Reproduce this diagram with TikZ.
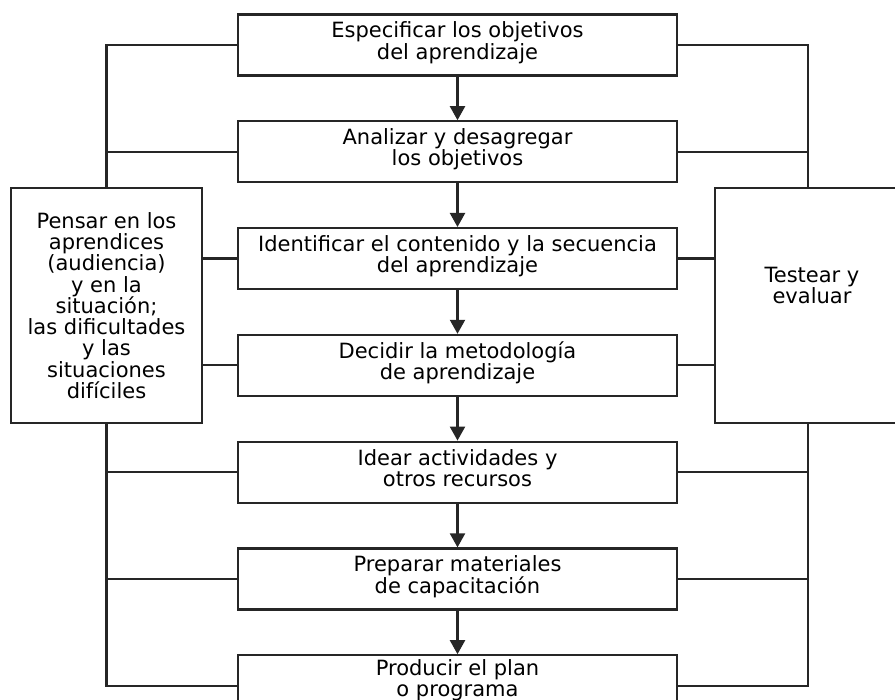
\documentclass[tikz,border=0pt]{standalone}
\usepackage{fontspec}
\setmainfont{DejaVu Sans}
\usetikzlibrary{positioning,arrows.meta}
\newcommand{\boxfont}{\fontsize{21pt}{21.3pt}\selectfont}
\tikzset{
  >={Triangle[length=14pt,width=15pt]},
  node distance=43.6pt,
  stepbox/.style={draw=black!85,line width=2.2pt,minimum height=61pt,
    minimum width=439pt,inner sep=0pt,align=center,font=\boxfont,
    text depth=9pt},
  sidebox/.style={draw=black!85,line width=2.2pt,minimum height=235pt,
    inner sep=0pt,align=center,font=\boxfont},
  sidetxt/.style={align=center,inner sep=0pt,font=\boxfont},
  flow/.style={->,line width=2.2pt,black!85},
  link/.style={line width=2.2pt,black!85},
}

\begin{document}
\begin{tikzpicture}[x=1pt,y=-1pt]
  \useasboundingbox (0,0) rectangle (895,700);
  \node[stepbox] (b1) at (457.5,45) {Especificar los objetivos\\del aprendizaje};
  \node[stepbox,below=of b1] (b2) {Analizar y desagregar\\los objetivos};
  \node[stepbox,below=of b2] (b3) {Identificar el contenido y la secuencia\\del aprendizaje};
  \node[stepbox,below=of b3] (b4) {Decidir la metodología\\de aprendizaje};
  \node[stepbox,below=of b4] (b5) {Idear actividades y\\otros recursos};
  \node[stepbox,below=of b5] (b6) {Preparar materiales\\de capacitación};
  \node[stepbox,below=of b6,text depth=15pt] (b7) {Producir el plan\\o programa};
  \node[sidebox,minimum width=191pt] (pens) at (106.5,305.5)
    {Pensar en los\\aprendices\\(audiencia)\\y en la\\situación;\\las dificultades\\y las\\situaciones\\difíciles};
  \node[sidebox,minimum width=186pt] (test) at (808,305.5) {};
  \node[sidetxt] (testtxt) at ([xshift=4pt,yshift=20pt]test.center) {Testear y\\evaluar};
  \foreach \a/\b in {b1/b2,b2/b3,b3/b4,b4/b5,b5/b6,b6/b7}
    \draw[flow] (\a) -- (\b);
  \draw[link] (b1.west) -| (pens.north);
  \draw[link] (b2.west) -- (b2.west -| pens.north);
  \draw[link] (b3.west) -- (b3.west -| pens.east);
  \draw[link] (b4.west) -- (b4.west -| pens.east);
  \draw[link] (pens.south) |- (b7.west);
  \draw[link] (b5.west) -- (b5.west -| pens.south);
  \draw[link] (b6.west) -- (b6.west -| pens.south);
  \draw[link] (b1.east) -| (test.north);
  \draw[link] (b2.east) -- (b2.east -| test.north);
  \draw[link] (b3.east) -- (b3.east -| test.west);
  \draw[link] (b4.east) -- (b4.east -| test.west);
  \draw[link] (test.south) |- (b7.east);
  \draw[link] (b5.east) -- (b5.east -| test.south);
  \draw[link] (b6.east) -- (b6.east -| test.south);
\end{tikzpicture}
\end{document}
